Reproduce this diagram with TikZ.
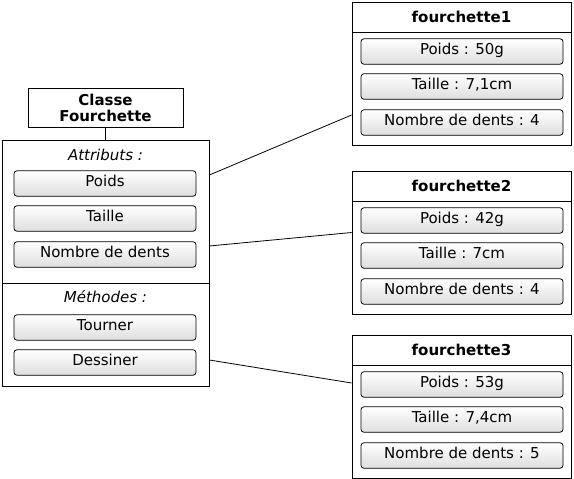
\documentclass[tikz,border=0pt]{standalone}
\usepackage{fontspec}
\setmainfont{DejaVu Sans}
\usetikzlibrary{positioning}

\begin{document}
\begin{tikzpicture}[x=1pt,y=-1pt,line width=0.8pt]
  \tikzstyle{frame}=[draw=black,rectangle,inner sep=0pt]
  \tikzstyle{field}=[draw=black,rounded corners=3pt,top color=white,bottom color=black!13,
                     inner sep=0pt,minimum height=25.5pt,text height=12pt,text depth=6pt,
                     font=\fontsize{15}{17}\selectfont]
  \useasboundingbox (0,0) rectangle (574,479);

  % la classe
  \node[frame,minimum width=155pt,minimum height=39pt,align=center,
        font=\fontsize{15}{16}\selectfont\bfseries] (classe) at (105.5,107.5) {Classe\\Fourchette};
  \node[frame,minimum width=207pt,minimum height=143pt] (attr) at (105.5,211.5) {};
  \node[frame,minimum width=207pt,minimum height=103pt] (meth) at (105.5,334.5) {};
  \node[font=\fontsize{15}{17}\selectfont\itshape] (attr-t) at (105.5,155) {Attributs :};
  \node[font=\fontsize{15}{17}\selectfont\itshape] (meth-t) at (105.5,297) {Méthodes :};
  \draw (classe) -- (attr);

  \foreach \name/\y/\text in {poids/183.5/Poids, taille/218.5/Taille, dents/254.5/Nombre de dents,
                              tourner/327.5/Tourner, dessiner/362.5/Dessiner}
    \node[field,minimum width=182pt] (c-\name) at (105,\y) {\text};

  % les objets
  \foreach \n/\y/\p/\t/\d in {1/2/50g/{7,1cm}/4, 2/171/42g/7cm/4, 3/335/53g/{7,4cm}/5}
  {
    \node[frame,minimum width=219pt,minimum height=30pt,
          font=\fontsize{15}{17}\selectfont\bfseries] (f\n) at (461.5,\y+15) {fourchette\n};
    \node[frame,minimum width=219pt,minimum height=113pt] (f\n-body) at (461.5,\y+86.5) {};
    \node[field,minimum width=202pt] (f\n-p) at (462,\y+49.5) {Poids : \p};
    \node[field,minimum width=202pt] (f\n-t) at (462,\y+84.5) {Taille : \t};
    \node[field,minimum width=202pt] (f\n-d) at (462,\y+120.5) {Nombre de dents : \d};
  }

  \draw ([yshift=36.5pt]attr.east) -- ([yshift=-26.5pt]f1-body.west);
  \draw ([yshift=-34.5pt]attr.east) -- ([yshift=25pt]f2-body.west);
  \draw ([yshift=-25.5pt]meth.east) -- ([yshift=38.5pt]f3-body.west);

\end{tikzpicture}
\end{document}
